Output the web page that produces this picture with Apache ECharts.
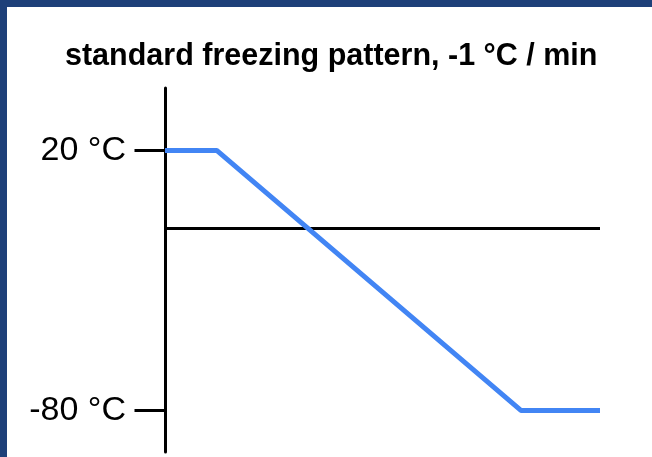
<!DOCTYPE html>
<html>
<head>
<meta charset="utf-8">
<script src="https://cdn.jsdelivr.net/npm/echarts@6/dist/echarts.min.js"></script>
<style>
html,body{margin:0;padding:0;background:#fff;}
#chart{width:652px;height:457px;}
</style>
</head>
<body>
<div id="chart"></div>
<script>
const titleText = 'standard freezing pattern, -1 °C / min';
const timeMin = [0, 17, 117, 143];
const tempC = [20, 20, -80, -80];
const tickTemps = [20, -80];
const refLineTemp = -10;

const chart = echarts.init(document.getElementById('chart'), null, {renderer: 'canvas'});
const seriesData = timeMin.map((t, i) => [t, tempC[i]]);

chart.setOption({
  animation: false,
  backgroundColor: '#ffffff',
  title: {
    text: titleText,
    left: 65,
    top: 41,
    padding: 0,
    textStyle: {fontFamily: 'Liberation Sans, Arial, sans-serif', fontSize: 30.5, fontWeight: 'bold', color: '#000'}
  },
  graphic: [
    {type: 'rect', left: 0, top: 0, shape: {width: 652, height: 7}, style: {fill: '#1e4079'}, z: 100},
    {type: 'rect', left: 0, top: 0, shape: {width: 7, height: 457}, style: {fill: '#1e4079'}, z: 100}
  ],
  grid: {left: 165, right: 52, top: 88, bottom: 5, containLabel: false},
  xAxis: {
    type: 'value', min: 0, max: 143, show: false
  },
  yAxis: {
    type: 'value', min: -96, max: 44,
    splitLine: {show: false},
    axisLine: {show: true, lineStyle: {color: '#000', width: 3}},
    axisTick: {show: true, length: 29, customValues: tickTemps, lineStyle: {color: '#000', width: 3, cap: 'square'}},
    axisLabel: {
      customValues: tickTemps,
      margin: 39,
      fontFamily: 'Liberation Sans, Arial, sans-serif',
      fontSize: 34,
      color: '#000',
      formatter: v => v + ' °C'
    }
  },
  series: [{
    type: 'line',
    data: seriesData,
    symbol: 'none',
    lineStyle: {color: '#4285f4', width: 5},
    z: 3,
    markLine: {
      silent: true,
      symbol: 'none',
      label: {show: false},
      lineStyle: {color: '#000', width: 3, type: 'solid'},
      z: 2,
      data: [{yAxis: refLineTemp}]
    }
  }]
});
</script>
</body>
</html>
